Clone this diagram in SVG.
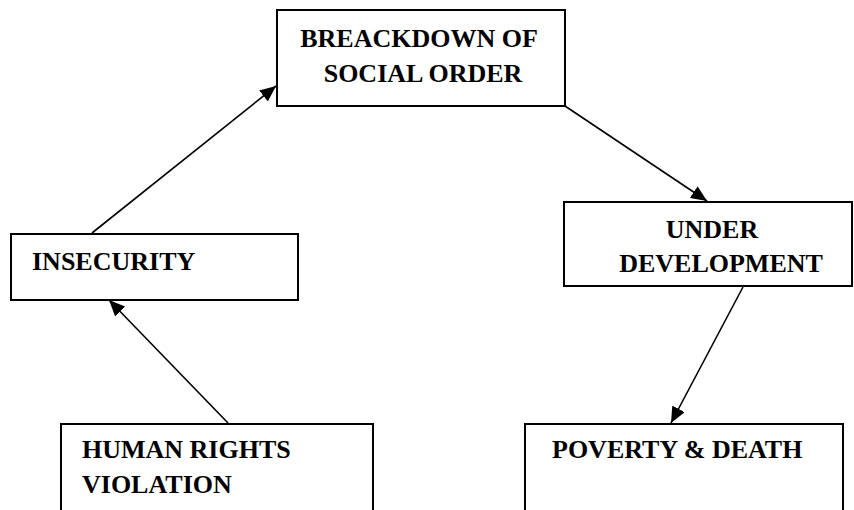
<svg xmlns="http://www.w3.org/2000/svg" width="854" height="510" viewBox="0 0 854 510">
<style>
.box{fill:#fff;stroke:#000;stroke-width:2}
.t{font-family:"Liberation Serif","Times New Roman",serif;font-weight:bold;font-size:26px;fill:#000}
.c{text-anchor:middle}
.e{stroke:#000;stroke-width:1.6;fill:none;marker-end:url(#ah)}
</style>
<defs>
<marker id="ah" markerUnits="userSpaceOnUse" markerWidth="18" markerHeight="14" refX="16" refY="7" orient="auto">
<path d="M0,0 L16,7 L0,14 Z" fill="#000"/>
</marker>
</defs>
<g id="connectors">
<line class="e" x1="92" y1="233" x2="276" y2="86"/>
<line class="e" x1="565" y1="106" x2="707" y2="201"/>
<line class="e" x1="743" y1="287" x2="671" y2="423"/>
<line class="e" x1="228" y1="423" x2="109" y2="300"/>
</g>
<g id="breakdown">
<rect class="box" x="277" y="10" width="288" height="96"/>
<text class="t c" x="419" y="47">BREACKDOWN OF</text>
<text class="t c" x="423" y="82">SOCIAL ORDER</text>
</g>
<g id="insecurity">
<rect class="box" x="11" y="234" width="287" height="66"/>
<text class="t" x="32" y="270">INSECURITY</text>
</g>
<g id="underdevelopment">
<rect class="box" x="564" y="202" width="288" height="84"/>
<text class="t c" x="712" y="238">UNDER</text>
<text class="t c" x="721" y="272">DEVELOPMENT</text>
</g>
<g id="humanrights">
<rect class="box" x="61" y="424" width="312" height="100"/>
<text class="t" x="82" y="458">HUMAN RIGHTS</text>
<text class="t" x="82" y="493">VIOLATION</text>
</g>
<g id="poverty">
<rect class="box" x="525" y="424" width="318" height="100"/>
<text class="t" x="552" y="458">POVERTY &amp; DEATH</text>
</g>
</svg>
